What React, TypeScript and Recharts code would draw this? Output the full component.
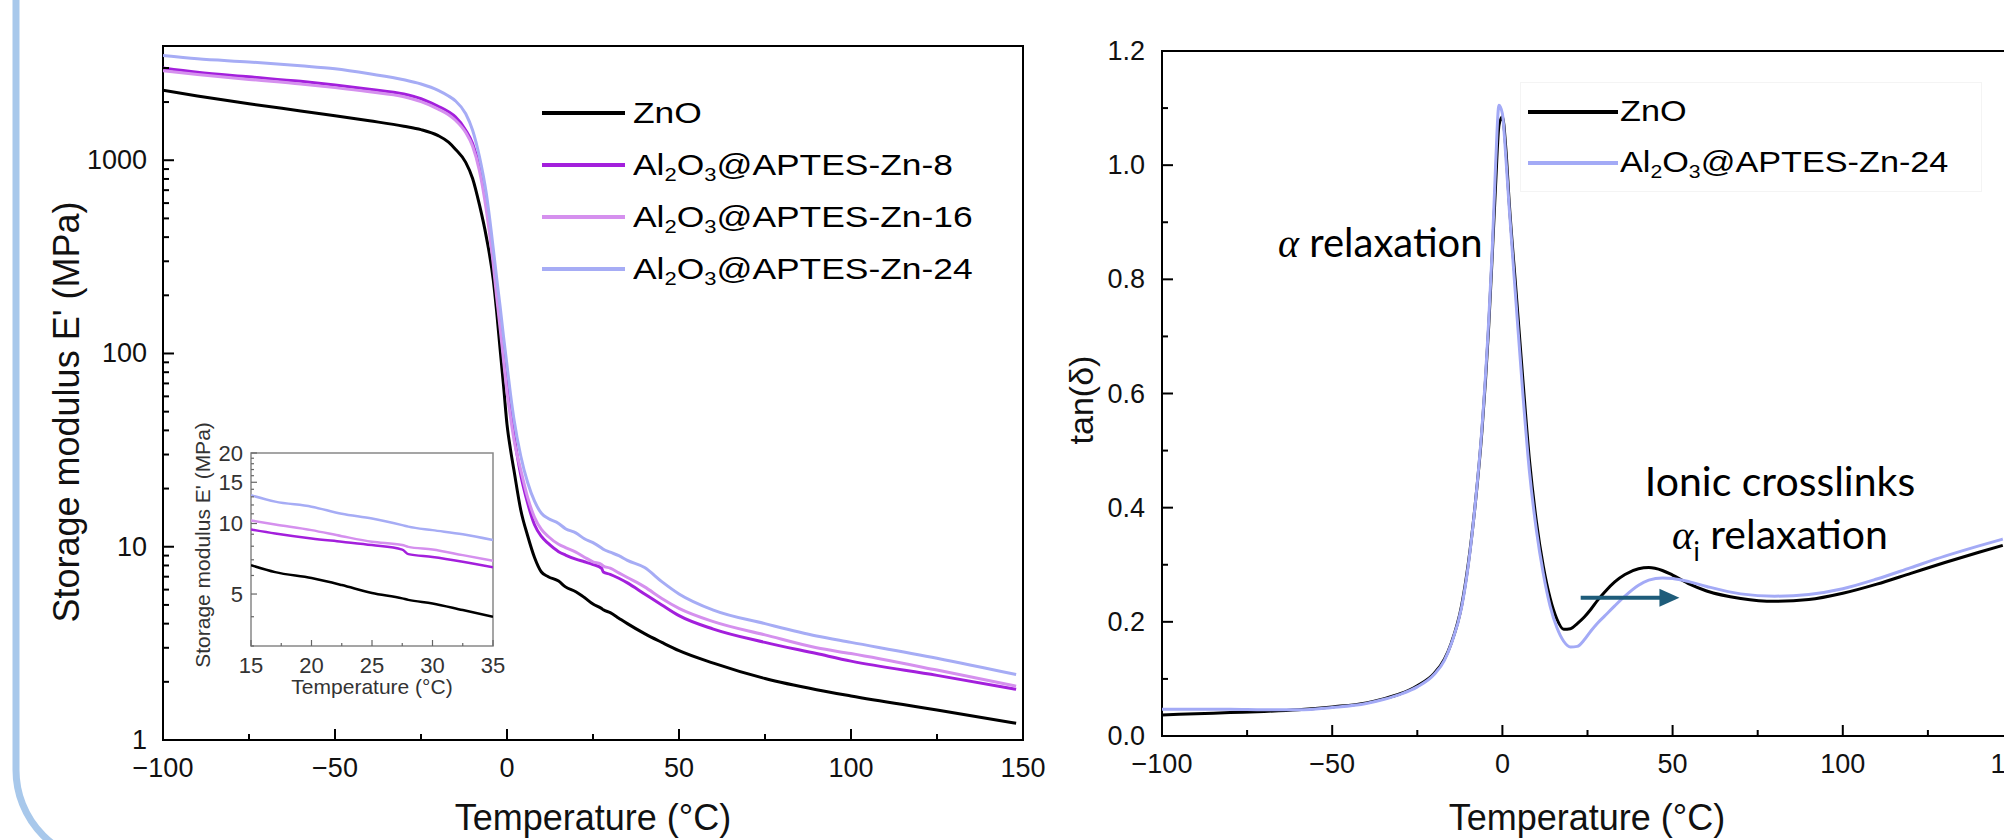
import React from 'react';
import {
  LineChart, Line, XAxis, YAxis, ReferenceArea, ReferenceLine, Legend, Customized,
} from 'recharts';

const FONT = "'Liberation Sans', Arial, sans-serif";
const NOTE_FONT = "Lato, 'Open Sans', sans-serif";

// ---- storage modulus E' (MPa) vs temperature (°C)
const modulusTemps = [-100, -90, -75, -60, -50, -40, -30, -25, -20, -17, -15, -12, -10, -8, -6, -4, -3, -2, -1, 0,
  1, 2, 4, 6, 8, 10, 12, 15, 17, 20, 22.5, 25, 27.5, 28, 30, 32.5, 35, 40, 45, 50, 60, 75, 90, 100, 125, 148];
const znoModulus = [2300, 2150, 1960, 1800, 1700, 1600, 1500, 1440, 1340, 1240, 1140, 975, 805, 587, 400, 241, 164, 105, 68, 43,
  32, 25, 15.5, 11.4, 8.8, 7.4, 7.0, 6.64, 6.2, 5.85, 5.46, 5.05, 4.79, 4.72, 4.56, 4.27, 4.0, 3.55, 3.2, 2.9, 2.5, 2.08, 1.82, 1.69, 1.43, 1.22];
const zn8Modulus = [3000, 2850, 2700, 2560, 2450, 2330, 2200, 2080, 1900, 1780, 1675, 1430, 1220, 916, 587, 311, 210, 145, 98, 68,
  50, 38, 23.5, 16.8, 13.0, 11.3, 10.4, 9.43, 9.06, 8.63, 8.36, 8.09, 7.74, 7.4, 7.2, 6.87, 6.5, 5.7, 5.0, 4.4, 3.75, 3.2, 2.8, 2.56, 2.16, 1.83];
const zn16Modulus = [2900, 2780, 2620, 2480, 2375, 2260, 2130, 2010, 1840, 1720, 1610, 1390, 1180, 880, 550, 290, 195, 135, 92, 63,
  47, 36, 25, 18, 14.2, 12.3, 11.3, 10.3, 9.9, 9.37, 8.83, 8.36, 8.1, 7.95, 7.75, 7.33, 6.93, 6.2, 5.4, 4.8, 4.1, 3.5, 3.0, 2.8, 2.3, 1.9];
const zn24Modulus = [3480, 3350, 3225, 3080, 2970, 2800, 2610, 2480, 2300, 2150, 2030, 1740, 1430, 1040, 670, 350, 245, 175, 122, 87,
  62, 46, 29.5, 21.5, 17.2, 14.9, 14.0, 13.2, 12.4, 11.8, 11.0, 10.5, 9.84, 9.7, 9.37, 9.0, 8.5, 7.8, 6.6, 5.7, 4.7, 4.0, 3.45, 3.2, 2.65, 2.18];

// ---- tan(delta) vs temperature (°C)
const tanTemps = [-100, -90, -80, -70, -60, -50, -40, -35, -30, -25, -20, -17, -15, -12, -10, -8, -6, -4, -3, -2,
  -1, 0, 1, 2, 4, 6, 8, 10, 12, 14, 16, 18, 20, 22, 24, 26, 28, 30, 33, 36, 40, 43, 47, 50, 55, 60, 70, 80, 90, 100,
  110, 120, 130, 140, 147];
const znoTan = [0.037, 0.039, 0.041, 0.043, 0.046, 0.051, 0.058, 0.065, 0.074, 0.088, 0.11, 0.135, 0.163, 0.228, 0.303, 0.405, 0.535, 0.72, 0.84, 0.965,
  1.07, 1.085, 1.03, 0.935, 0.78, 0.625, 0.48, 0.375, 0.298, 0.242, 0.205, 0.187, 0.188, 0.197, 0.208, 0.222, 0.238, 0.252, 0.27, 0.283,
  0.293, 0.295, 0.29, 0.282, 0.266, 0.254, 0.241, 0.236, 0.239, 0.25, 0.266, 0.285, 0.304, 0.322, 0.334];
const zn24Tan = [0.047, 0.047, 0.047, 0.046, 0.046, 0.05, 0.057, 0.064, 0.073, 0.086, 0.108, 0.133, 0.162, 0.225, 0.3, 0.405, 0.54, 0.73, 0.85, 1.0,
  1.105, 1.09, 1.015, 0.925, 0.76, 0.6, 0.46, 0.36, 0.285, 0.228, 0.19, 0.166, 0.156, 0.157, 0.168, 0.184, 0.198, 0.21, 0.228, 0.245,
  0.264, 0.273, 0.277, 0.276, 0.27, 0.262, 0.249, 0.245, 0.248, 0.258, 0.275, 0.295, 0.315, 0.333, 0.345];

// ---- ticks
const tempTicks = [-100, -75, -50, -25, 0, 25, 50, 75, 100, 125, 150];
const tempLabels = [-100, -50, 0, 50, 100, 150];
const modulusTicks = [1, 2, 3, 4, 5, 6, 7, 8, 9, 10, 20, 30, 40, 50, 60, 70, 80, 90,
  100, 200, 300, 400, 500, 600, 700, 800, 900, 1000, 2000, 3000];
const modulusLabels = [1, 10, 100, 1000];
const tanTicks = [0, 0.1, 0.2, 0.3, 0.4, 0.5, 0.6, 0.7, 0.8, 0.9, 1.0, 1.1, 1.2];
const tanLabels = [0, 0.2, 0.4, 0.6, 0.8, 1.0, 1.2];
const insetTempTicks = [15, 17.5, 20, 22.5, 25, 27.5, 30, 32.5, 35];
const insetTempLabels = [15, 20, 25, 30, 35];
const insetModulusTicks = [3, 4, 5, 6, 7, 8, 9, 10, 11, 12, 13, 14, 15, 16, 17, 18, 19, 20];
const insetModulusLabels = [5, 10, 15, 20];

const modulusSeries = [
  { key: 'zno', name: 'ZnO', color: '#000000' },
  { key: 'zn8', name: 'Al2O3@APTES-Zn-8', color: '#a31fdc' },
  { key: 'zn16', name: 'Al2O3@APTES-Zn-16', color: '#d590ee' },
  { key: 'zn24', name: 'Al2O3@APTES-Zn-24', color: '#a6acf5' },
];
const tanSeries = [
  { key: 'zno', name: 'ZnO', color: '#000000' },
  { key: 'zn24', name: 'Al2O3@APTES-Zn-24', color: '#a3aaf6' },
];

const modulusRows = modulusTemps.map((t, i) => ({
  t, zno: znoModulus[i], zn8: zn8Modulus[i], zn16: zn16Modulus[i], zn24: zn24Modulus[i],
}));
const insetRows = modulusRows.filter((r) => r.t >= 15 && r.t <= 35);
const tanRows = tanTemps.map((t, i) => ({ t, zno: znoTan[i], zn24: zn24Tan[i] }));

const fmtTemp = (v: number) => (v < 0 ? `\u2212${Math.abs(v)}` : `${v}`);
const fmtTan = (v: number) => v.toFixed(1);
const fmtInt = (v: number) => `${v}`;

// inward ticks, labels only on majors
function BottomTick({ x, y, payload, st }: any) {
  const v = payload.value;
  const on = st.labels.includes(v);
  return (
    <g>
      <line x1={x} x2={x} y1={y} y2={y - (on ? st.major : st.minor)} stroke={st.stroke} strokeWidth={st.width} />
      {on && (
        <text x={x} y={y + st.gap} textAnchor="middle" fontFamily={FONT} fontSize={st.fontSize} fill={st.color}>
          {st.fmt(v)}
        </text>
      )}
    </g>
  );
}

function LeftTick({ x, y, payload, st }: any) {
  const v = payload.value;
  const on = st.labels.includes(v);
  return (
    <g>
      <line x1={x} x2={x + (on ? st.major : st.minor)} y1={y} y2={y} stroke={st.stroke} strokeWidth={st.width} />
      {on && (
        <text x={x - st.gap} y={y} textAnchor="end" dominantBaseline="central" fontFamily={FONT}
          fontSize={st.fontSize} fill={st.color}>
          {st.fmt(v)}
        </text>
      )}
    </g>
  );
}

const MAIN = { major: 11, minor: 6, width: 2, stroke: '#000', color: '#111', fontSize: 27 };
const INSET = { major: 6, minor: 3, width: 1.2, stroke: '#666', color: '#333', fontSize: 22 };

function ChemName({ name }: { name: string }) {
  if (!name.startsWith('Al2O3')) return <>{name}</>;
  const sub = { fontSize: '0.62em', verticalAlign: '-0.32em', lineHeight: 0 };
  return <>Al<span style={sub}>2</span>O<span style={sub}>3</span>{name.slice(5)}</>;
}

function SeriesLegend({ series, rowH, lineW, gap, fontSize, boxed }: any) {
  return (
    <div style={{
      fontFamily: FONT, fontSize, color: '#000',
      border: boxed ? '1px solid #f4f4f4' : 'none', padding: boxed ? '3px 0 3px 7px' : 0,
      width: boxed ? 462 : 'auto', boxSizing: 'border-box',
    }}>
      {series.map((s: any) => (
        <div key={s.key} style={{ display: 'flex', alignItems: 'center', height: rowH }}>
          <div style={{ width: lineW, height: 4, background: s.color, marginRight: gap, flexShrink: 0 }} />
          <span style={{ display: 'inline-block', whiteSpace: 'nowrap', lineHeight: 1, transform: 'scaleX(1.18)', transformOrigin: 'left center' }}>
            <ChemName name={s.name} />
          </span>
        </div>
      ))}
    </div>
  );
}

function ModulusTitles() {
  return (
    <g fontFamily={FONT} fill="#111" fontSize={36}>
      <text x={593} y={830} textAnchor="middle">Temperature (°C)</text>
      <text transform="translate(66,412) rotate(-90)" textAnchor="middle" dominantBaseline="central">
        Storage modulus E' (MPa)
      </text>
    </g>
  );
}

function InsetTitles() {
  return (
    <g fontFamily={FONT} fill="#333" fontSize={21}>
      <text x={212} y={279} textAnchor="middle">Temperature (°C)</text>
      <text transform="translate(42,130) rotate(-90)" textAnchor="middle" dominantBaseline="central">
        Storage modulus E' (MPa)
      </text>
    </g>
  );
}

// right panel sits at page x = 1062
function TanTitles() {
  return (
    <g fill="#000">
      <text x={525} y={830} textAnchor="middle" fontFamily={FONT} fontSize={36} fill="#111">Temperature (°C)</text>
      <text transform="translate(19,400) rotate(-90)" textAnchor="middle" dominantBaseline="central"
        fontFamily={FONT} fontSize={34} fill="#111">tan(δ)</text>
      <text x={216} y={257} fontFamily={NOTE_FONT} fontSize={40}>
        <tspan fontFamily="'Liberation Serif', serif" fontStyle="italic">α</tspan> relaxation
      </text>
      <text x={718} y={496} textAnchor="middle" fontFamily={NOTE_FONT} fontSize={41}>Ionic crosslinks</text>
      <text x={718} y={549} textAnchor="middle" fontFamily={NOTE_FONT} fontSize={41}>
        <tspan fontFamily="'Liberation Serif', serif" fontStyle="italic">α</tspan>
        <tspan dy={12} fontSize={26}>i</tspan>
        <tspan dy={-12}> relaxation</tspan>
      </text>
    </g>
  );
}

function Arrow(props: any) {
  const { x1, y1, x2, y2 } = props;
  const c = '#1e5c7a';
  return (
    <g>
      <line x1={x1} y1={y1} x2={x2 - 16} y2={y2} stroke={c} strokeWidth={4} />
      <polygon points={`${x2},${y2} ${x2 - 20},${y2 - 9} ${x2 - 20},${y2 + 9}`} fill={c} />
    </g>
  );
}

export default function App() {
  return (
    <div style={{ position: 'fixed', left: 0, top: 0, width: 2004, height: 840, overflow: 'hidden', background: '#fff' }}>
      {/* decorative rounded frame on the left */}
      <svg width={2004} height={840} style={{ position: 'absolute', left: 0, top: 0 }}>
        <path d="M16,-10 L16,770 A92.6,92.6 0 0 0 108.6,862.6" fill="none" stroke="#a8c8eb" strokeWidth={7} />
      </svg>

      {/* storage modulus */}
      <div style={{ position: 'absolute', left: 0, top: 0 }}>
        <LineChart width={1060} height={840} data={modulusRows} margin={{ top: 46, right: 37, bottom: 0, left: 63 }}>
          <XAxis dataKey="t" type="number" domain={[-100, 150]} ticks={tempTicks} interval={0} height={100}
            axisLine={false} tickLine={false} tickSize={0} tickMargin={0} allowDataOverflow
            tick={(p: any) => <BottomTick {...p} st={{ ...MAIN, labels: tempLabels, fmt: fmtTemp, gap: 37 }} />} />
          <YAxis type="number" scale="log" domain={[1, 3900]} ticks={modulusTicks} interval={0} width={100}
            axisLine={false} tickLine={false} tickSize={0} tickMargin={0} allowDataOverflow
            tick={(p: any) => <LeftTick {...p} st={{ ...MAIN, labels: modulusLabels, fmt: fmtInt, gap: 16 }} />} />
          <ReferenceArea x1={-100} x2={150} y1={1} y2={3900} fill="none" stroke="#000" strokeWidth={2} ifOverflow="visible" />
          {modulusSeries.map((s) => (
            <Line key={s.key} type="monotone" dataKey={s.key} name={s.name} stroke={s.color} strokeWidth={3}
              dot={false} isAnimationActive={false} />
          ))}
          <Legend layout="vertical" align="center" verticalAlign="middle" wrapperStyle={{ left: 542, top: 87 }}
            content={() => <SeriesLegend series={modulusSeries} rowH={52} lineW={83} gap={8} fontSize={30} />} />
          <Customized component={ModulusTitles} />
        </LineChart>
      </div>

      {/* inset */}
      <div style={{ position: 'absolute', left: 160, top: 415 }}>
        <LineChart width={345} height={300} data={insetRows} margin={{ top: 38, right: 12, bottom: 0, left: 41 }}>
          <XAxis dataKey="t" type="number" domain={[15, 35]} ticks={insetTempTicks} interval={0} height={69}
            axisLine={false} tickLine={false} tickSize={0} tickMargin={0} allowDataOverflow
            tick={(p: any) => <BottomTick {...p} st={{ ...INSET, labels: insetTempLabels, fmt: fmtInt, gap: 27 }} />} />
          <YAxis type="number" scale="log" domain={[3, 20]} ticks={insetModulusTicks} interval={0} width={50}
            axisLine={false} tickLine={false} tickSize={0} tickMargin={0} allowDataOverflow
            tick={(p: any) => <LeftTick {...p} st={{ ...INSET, labels: insetModulusLabels, fmt: fmtInt, gap: 8 }} />} />
          <ReferenceArea x1={15} x2={35} y1={3} y2={20} fill="none" stroke="#888" strokeWidth={1.5} ifOverflow="visible" />
          {modulusSeries.map((s) => (
            <Line key={s.key} type="monotone" dataKey={s.key} stroke={s.color} strokeWidth={2.5}
              dot={false} isAnimationActive={false} />
          ))}
          <Customized component={InsetTitles} />
        </LineChart>
      </div>

      {/* tan delta */}
      <div style={{ position: 'absolute', left: 1062, top: 0 }}>
        <LineChart width={960} height={840} data={tanRows} margin={{ top: 51, right: 9, bottom: 0, left: 0 }}>
          <XAxis dataKey="t" type="number" domain={[-100, 150]} ticks={tempTicks} interval={0} height={104}
            axisLine={false} tickLine={false} tickSize={0} tickMargin={0} allowDataOverflow
            tick={(p: any) => <BottomTick {...p} st={{ ...MAIN, labels: tempLabels, fmt: fmtTemp, gap: 37 }} />} />
          <YAxis type="number" domain={[0, 1.2]} ticks={tanTicks} interval={0} width={100}
            axisLine={false} tickLine={false} tickSize={0} tickMargin={0} allowDataOverflow
            tick={(p: any) => <LeftTick {...p} st={{ ...MAIN, labels: tanLabels, fmt: fmtTan, gap: 17 }} />} />
          <ReferenceArea x1={-100} x2={150} y1={0} y2={1.2} fill="none" stroke="#000" strokeWidth={2} ifOverflow="visible" />
          {tanSeries.map((s) => (
            <Line key={s.key} type="monotone" dataKey={s.key} name={s.name} stroke={s.color} strokeWidth={3}
              dot={false} isAnimationActive={false} />
          ))}
          <ReferenceLine segment={[{ x: 23, y: 0.242 }, { x: 52, y: 0.242 }]} ifOverflow="visible" shape={Arrow} />
          <Legend layout="vertical" align="center" verticalAlign="middle" wrapperStyle={{ left: 458, top: 82 }}
            content={() => <SeriesLegend series={tanSeries} rowH={51} lineW={90} gap={2} fontSize={29} boxed />} />
          <Customized component={TanTitles} />
        </LineChart>
      </div>
    </div>
  );
}
